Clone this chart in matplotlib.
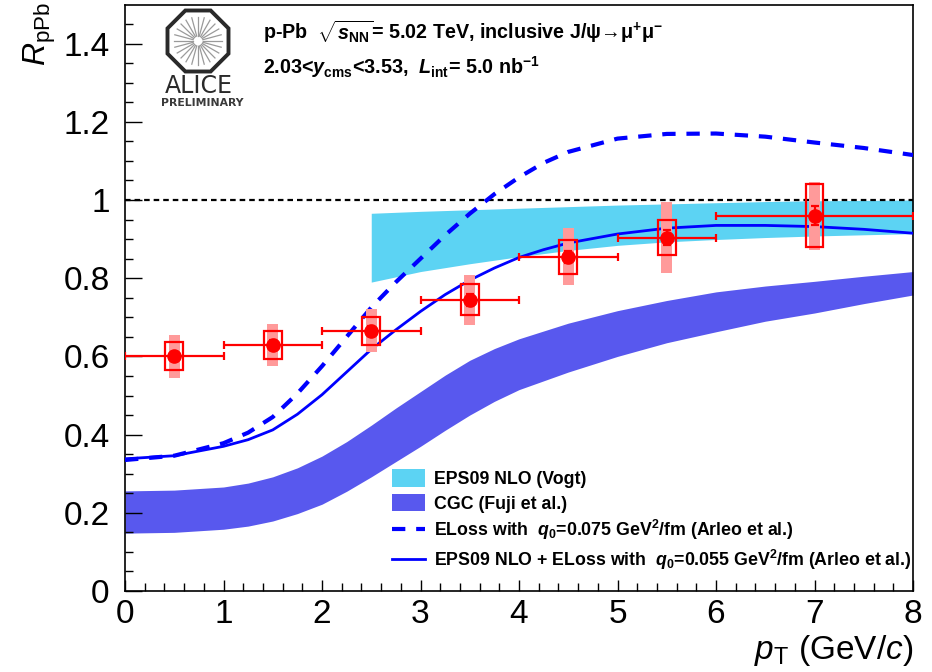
import numpy as np
import matplotlib
matplotlib.use("Agg")
import matplotlib.pyplot as plt
from matplotlib.patches import Patch, Polygon
from matplotlib.lines import Line2D

plt.rcParams['font.family'] = ['Liberation Sans', 'DejaVu Sans']
plt.rcParams['mathtext.fontset'] = 'custom'
plt.rcParams['mathtext.rm'] = 'Liberation Sans:bold'
plt.rcParams['mathtext.it'] = 'Liberation Sans:bold:italic'
plt.rcParams['mathtext.bf'] = 'Liberation Sans:bold'
plt.rcParams['mathtext.sf'] = 'Liberation Sans'
plt.rcParams['mathtext.cal'] = 'Liberation Sans:italic'

# ALICE data points
pt = [0.5, 1.5, 2.5, 3.5, 4.5, 5.5, 7.0]
pt_err = [0.5, 0.5, 0.5, 0.5, 0.5, 0.5, 1.0]
rppb = [0.600, 0.629, 0.665, 0.745, 0.855, 0.904, 0.960]
stat = [0.010, 0.012, 0.012, 0.015, 0.015, 0.018, 0.024]
sys_uncorr = [0.036, 0.036, 0.037, 0.040, 0.043, 0.045, 0.080]
sys_corr = [0.054, 0.054, 0.055, 0.064, 0.073, 0.090, 0.087]

# EPS09 NLO (Vogt) band
eps_x = [2.5, 3.0, 3.5, 4.0, 4.5, 5.0, 5.5, 6.0, 6.5, 7.0, 7.5, 8.0]
eps_hi = [0.966, 0.971, 0.975, 0.979, 0.983, 0.987, 0.990, 0.993, 0.996, 0.998, 0.999, 1.000]
eps_lo = [0.790, 0.817, 0.837, 0.855, 0.871, 0.884, 0.893, 0.899, 0.904, 0.908, 0.911, 0.914]

# CGC (Fuji et al.) band
cgc_x = [0, 0.5, 1.0, 1.25, 1.5, 1.75, 2.0, 2.25, 2.5, 2.75, 3.0, 3.25, 3.5, 3.75,
         4.0, 4.5, 5.0, 5.5, 6.0, 6.5, 7.0, 7.5, 8.0]
cgc_hi = [0.256, 0.258, 0.266, 0.276, 0.292, 0.315, 0.345, 0.382, 0.424, 0.468, 0.510,
          0.552, 0.590, 0.620, 0.645, 0.685, 0.717, 0.743, 0.765, 0.780, 0.792, 0.805, 0.817]
cgc_lo = [0.148, 0.150, 0.158, 0.166, 0.179, 0.198, 0.222, 0.255, 0.292, 0.331, 0.370,
          0.411, 0.450, 0.485, 0.515, 0.560, 0.600, 0.635, 0.663, 0.690, 0.711, 0.735, 0.757]

# ELoss curves (Arleo et al.)
eloss_x = [0, 0.5, 1.0, 1.25, 1.5, 1.75, 2.0, 2.25, 2.5, 2.75, 3.0, 3.25, 3.5, 3.75,
           4.0, 4.25, 4.5, 5.0, 5.5, 6.0, 6.5, 7.0, 7.5, 8.0]
eloss_075 = [0.335, 0.346, 0.378, 0.405, 0.445, 0.505, 0.575, 0.650, 0.725, 0.790, 0.850,
             0.910, 0.965, 1.015, 1.058, 1.095, 1.123, 1.157, 1.169, 1.170, 1.162, 1.147,
             1.133, 1.115]
eloss_055 = [0.338, 0.346, 0.370, 0.387, 0.412, 0.452, 0.502, 0.560, 0.618, 0.668, 0.715,
             0.758, 0.795, 0.826, 0.853, 0.873, 0.890, 0.913, 0.928, 0.935, 0.935, 0.932,
             0.925, 0.915]

xticks = [0, 1, 2, 3, 4, 5, 6, 7, 8]
yticks = [0, 0.2, 0.4, 0.6, 0.8, 1.0, 1.2, 1.4]
yticklabels = ['0', '0.2', '0.4', '0.6', '0.8', '1', '1.2', '1.4']

W, H = 932, 672


def px(x, y):
    return x / W, 1 - y / H


fig = plt.figure(figsize=(9.32, 6.72), dpi=100)
ax = fig.add_axes([125 / W, 1 - 591 / H, 788 / W, 586.5 / H])

cyan = '#5cd3f3'
blue_band = '#5858ee'
ax.fill_between(eps_x, eps_lo, eps_hi, color=cyan, lw=0, zorder=1)
ax.fill_between(cgc_x, cgc_lo, cgc_hi, color=blue_band, lw=0, zorder=1)

ax.plot(eloss_x, eloss_075, color='#0000ff', lw=3, dashes=(3.2, 2.6), zorder=3)
ax.plot(eloss_x, eloss_055, color='#0000ff', lw=2, zorder=3)
ax.axhline(1, color='black', lw=1.6, dashes=(2.5, 1.8), zorder=2)

# correlated (filled) and uncorrelated (open box) systematics
ax.bar(pt, [2 * s for s in sys_corr], bottom=[y - s for y, s in zip(rppb, sys_corr)],
       width=0.11, color='#ff9a9a', edgecolor='none', zorder=4)
ax.bar(pt, [2 * s for s in sys_uncorr], bottom=[y - s for y, s in zip(rppb, sys_uncorr)],
       width=0.18, fill=False, edgecolor='#ff0000', lw=1.6, zorder=5)
ax.errorbar(pt, rppb, xerr=pt_err, yerr=stat, fmt='o', color='#ff0000', ms=9.5,
            elinewidth=1.6, capsize=3, capthick=1.6, zorder=6)

ax.set_xlim(0, 8)
ax.set_ylim(0, 1.5)
ax.set_xticks(xticks)
ax.set_xticklabels([str(t) for t in xticks])
ax.set_yticks(yticks)
ax.set_yticklabels(yticklabels)
ax.set_xticks(np.arange(0, 8.01, 0.2), minor=True)
ax.set_yticks(np.arange(0, 1.5, 0.05), minor=True)
ax.tick_params(axis='both', which='both', direction='in', top=False, right=False,
               labelsize=24, width=1)
ax.tick_params(axis='y', which='major', length=12, pad=11)
ax.tick_params(axis='y', which='minor', length=6)
ax.tick_params(axis='x', which='major', length=8, pad=6)
ax.tick_params(axis='x', which='minor', length=6)
for s in ax.spines.values():
    s.set_linewidth(1.2)

# axis titles
fig.text(*px(40, 2), r'$\mathcal{R}_{\mathsf{pPb}}$', rotation=90, fontsize=23,
         ha='center', va='top')
fig.text(*px(913, 668), r'$\mathcal{p}_{\mathsf{T}}$ (GeV/$\mathcal{c}$)', fontsize=24,
         ha='right', va='bottom')

# header texts
fig.text(*px(263, 32), r'p-Pb  $\sqrt{s_{\rm NN}}$= 5.02 TeV, inclusive J/ψ→μ$^{+}$μ$^{-}$',
         fontsize=14.2, fontweight='bold', ha='left', va='center')
fig.text(*px(263, 67), r'2.03<$y_{\rm cms}$<3.53,  $L_{\rm int}$= 5.0 nb$^{-1}$',
         fontsize=14.2, fontweight='bold', ha='left', va='center')

# ALICE logo
lax = fig.add_axes([163 / W, 1 - 76 / H, 70 / W, 70 / H])
lax.set_xlim(-35, 35)
lax.set_ylim(-35, 35)
lax.axis('off')
ang = np.deg2rad(22.5 + 45 * np.arange(8))
R = 30.5 / np.cos(np.deg2rad(22.5))
lax.add_patch(Polygon(np.c_[R * np.cos(ang), R * np.sin(ang)], closed=True,
                      fill=False, edgecolor='#2a2a2a', lw=2.8))
for a in np.deg2rad(np.arange(0, 360, 15)):
    lax.plot([5 * np.cos(a), 24 * np.cos(a)], [5 * np.sin(a), 24 * np.sin(a)],
             color='#9a9a9a', lw=0.9)
fig.text(*px(199, 86), 'ALICE', family='DejaVu Sans', fontsize=17, color='#2a2a2a',
         ha='center', va='center')
fig.text(*px(202, 103), 'PRELIMINARY', family='DejaVu Sans', fontweight='bold',
         fontsize=7.8, color='#3a3a3a', ha='center', va='center')

handles = [Patch(facecolor=cyan, edgecolor='none'),
           Patch(facecolor=blue_band, edgecolor='none'),
           Line2D([], [], color='#0000ff', lw=3, dashes=(3.2, 2.6)),
           Line2D([], [], color='#0000ff', lw=2)]
labels = ['EPS09 NLO (Vogt)', 'CGC (Fuji et al.)',
          r'ELoss with  $q_{0}$=0.075 GeV$^{2}$/fm (Arleo et al.)',
          r'EPS09 NLO + ELoss with  $q_{0}$=0.055 GeV$^{2}$/fm (Arleo et al.)']
ax.legend(handles, labels, loc='center left', bbox_to_anchor=(0.339, 0.12),
          frameon=False, borderpad=0, borderaxespad=0, handlelength=1.85,
          handleheight=1.15, handletextpad=0.5, labelspacing=0.32,
          prop={'weight': 'bold', 'size': 12.8})

fig.savefig('out.png', dpi=100)
